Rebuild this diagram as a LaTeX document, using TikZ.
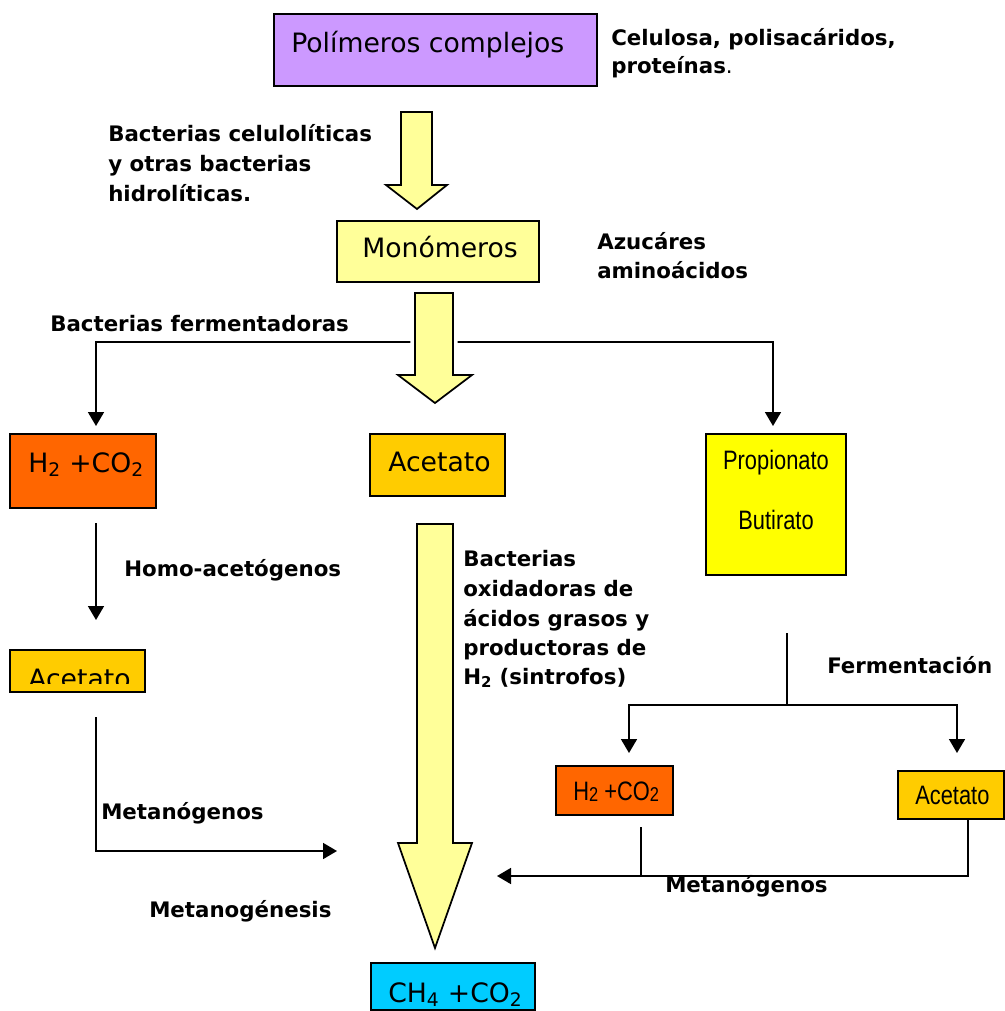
\documentclass[tikz,border=0pt]{standalone}
\usepackage{fontspec}
\setmainfont{DejaVu Sans}
\newfontfamily\arn[FakeStretch=0.82]{Liberation Sans}
\usetikzlibrary{arrows.meta,fit}
\definecolor{cpurple}{HTML}{CC99FF}
\definecolor{cltyel}{HTML}{FFFF99}
\definecolor{corange}{HTML}{FF6600}
\definecolor{cgold}{HTML}{FFCC00}
\definecolor{cyel}{HTML}{FFFF00}
\definecolor{ccyan}{HTML}{00CCFF}
\tikzset{
  box/.style={draw=black, line width=1.5pt, inner sep=0pt},
  conn/.style={line width=1.3pt},
  arr/.style={conn, -{Triangle[width=12pt,length=10.5pt]}},
  blockarrow/.style={draw=black, line width=1.3pt, fill=cltyel, line join=miter},
  lbl/.style={font=\fontsize{16}{19}\selectfont\bfseries, anchor=base west, inner sep=0pt},
  btxt/.style={font=\fontsize{20}{24}\selectfont, anchor=base west, inner sep=0pt},
  atxt/.style={font=\arn\fontsize{20}{24}\selectfont, anchor=base, inner sep=0pt}
}
\begin{document}
\begin{tikzpicture}[x=0.75pt,y=-0.75pt]
\useasboundingbox (0,0) rectangle (1005,1011);
\fill[white] (0,0) rectangle (1005,1011);

% boxes
\node[box, fill=cpurple, fit={(274,14)(597,86)}] (poly) {};
\node[btxt] (polyt) at (291,52) {Polímeros complejos};
\node[box, fill=cltyel, fit={(337,221)(539,282)}] (mono) {};
\node[btxt] (monot) at (362,257) {Monómeros};
\node[box, fill=corange, fit={(10,434)(156,508)}] (h2l) {};
\node[btxt] (h2lt) at (28,472) {H\textsubscript{2} +CO\textsubscript{2}};
\node[box, fill=cgold, fit={(370,434)(505,496)}] (acc) {};
\node[btxt] (acct) at (388,471) {Acetato};
\node[box, fill=cyel, fit={(706,434)(846,575)}] (prop) {};
\node[atxt] (propt1) at (776,469) {Propionato};
\node[atxt] (propt2) at (776,529) {Butirato};
\node[box, fill=cgold, fit={(10,650)(145,692)}] (acl) {};
\begin{scope}
\clip (11,651) rectangle (144,683);
\node[btxt] (aclt) at (28,688) {Acetato};
\end{scope}
\node[box, fill=corange, fit={(556,766)(673,815)}] (h2s) {};
\node[atxt, anchor=base west] (h2st) at (573,800) {H{\fontsize{15}{15}\selectfont\raisebox{-1pt}{2}} +CO{\fontsize{15}{15}\selectfont\raisebox{-1pt}{2}}};
\node[box, fill=cgold, fit={(898,771)(1004,819)}] (acs) {};
\node[atxt, anchor=base west] (acst) at (915,804) {Acetato};
\node[box, fill=ccyan, fit={(371,963)(535,1010)}] (ch4) {};
\node[btxt] (ch4t) at (388,1002) {CH\textsubscript{4} +CO\textsubscript{2}};

% labels
\node[lbl] (cel1) at (611,45) {Celulosa, polisacáridos,};
\node[lbl] (cel2) at (611,73) {proteínas{\mdseries .}};
\node[lbl] (bc1) at (108,141) {Bacterias celulolíticas};
\node[lbl] (bc2) at (108,171) {y otras bacterias};
\node[lbl] (bc3) at (108,201) {hidrolíticas.};
\node[lbl] (az1) at (597,249) {Azucáres};
\node[lbl] (az2) at (597,278) {aminoácidos};
\node[lbl] (bfer) at (50,331) {Bacterias fermentadoras};
\node[lbl] (homo) at (124,576) {Homo-acetógenos};
\node[lbl] (ox1) at (463,566) {Bacterias};
\node[lbl] (ox2) at (463,596) {oxidadoras de};
\node[lbl] (ox3) at (463,626) {ácidos grasos y};
\node[lbl] (ox4) at (463,655) {productoras de};
\node[lbl] (ox5) at (463,684) {H\textsubscript{2} (sintrofos)};
\node[lbl] (ferm) at (827,673) {Fermentación};
\node[lbl] (metl) at (101,819) {Metanógenos};
\node[lbl] (metg) at (149,917) {Metanogénesis};
\node[lbl] (metr) at (665,892) {Metanógenos};

% coordinates
\coordinate (fk) at (435,342);
\coordinate (h2in) at (96,426);
\coordinate (prin) at (773,426);
\coordinate (h2out) at (96,523);
\coordinate (aclin) at (96,620);
\coordinate (aclout) at (96,717);
\coordinate (mjL) at (337,851);
\coordinate (pout) at (787,633);
\coordinate (fj) at (787,705);
\coordinate (h2sin) at (629,753);
\coordinate (acsin) at (957,753);
\coordinate (h2sout) at (641,827);
\coordinate (acsout) at (968,819);
\coordinate (mjR) at (497,876);
\coordinate (h2sj) at (641,876);

% connectors
\draw[arr] (fk) -| (h2in);
\draw[arr] (fk) -| (prin);
\draw[arr] (h2out) -- (aclin);
\draw[arr] (aclout) |- (mjL);
\draw[conn] (pout) -- (fj);
\draw[arr] (fj) -| (h2sin);
\draw[arr] (fj) -| (acsin);
\draw[conn] (h2sout) -- (h2sj);
\draw[arr] (acsout) |- (mjR);

% block arrows
\draw[blockarrow] (401,112) -- (432,112) -- (432,185) -- (447,185) -- (417,209) -- (386,185) -- (401,185) -- cycle;
\draw[blockarrow, preaction={draw=white, line width=7pt}] (415,293) -- (453,293) -- (453,375) -- (472,375) -- (435,403) -- (398,375) -- (415,375) -- cycle;
\draw[blockarrow] (417,524) -- (453,524) -- (453,843) -- (472,843) -- (435,948) -- (398,843) -- (417,843) -- cycle;
\end{tikzpicture}
\end{document}
